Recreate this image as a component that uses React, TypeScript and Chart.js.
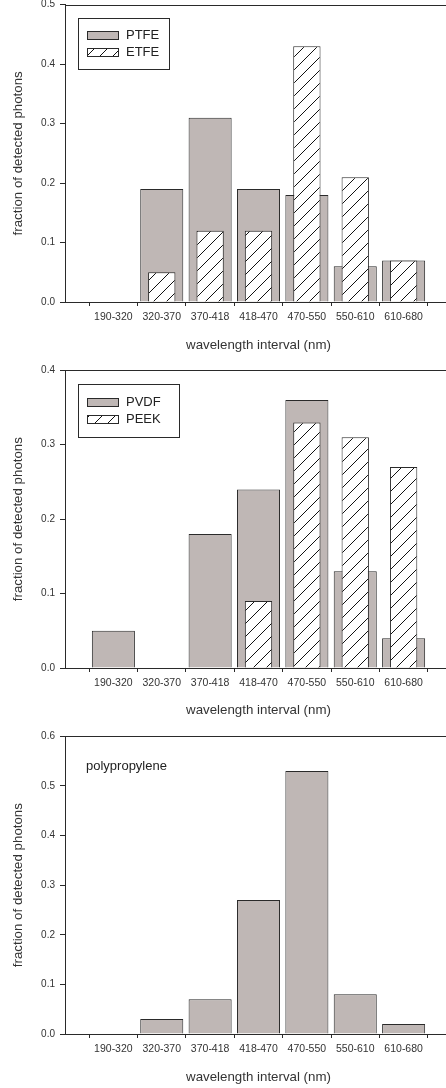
import React, { useEffect, useRef } from 'react';
import { Chart, registerables } from 'chart.js';

Chart.register(...registerables);

const FONT = '"Liberation Sans", Arial, Helvetica, sans-serif';

const categories = ['190-320', '320-370', '370-418', '418-470', '470-550', '550-610', '610-680'];
const ptfe = [0, 0.19, 0.31, 0.19, 0.18, 0.06, 0.07];
const etfe = [0, 0.05, 0.12, 0.12, 0.43, 0.21, 0.07];
const pvdf = [0.05, 0, 0.18, 0.24, 0.36, 0.13, 0.04];
const peek = [0, 0, 0, 0.09, 0.33, 0.31, 0.27];
const polypropylene = [0, 0.03, 0.07, 0.27, 0.53, 0.08, 0.02];
const yMaxes = [0.5, 0.4, 0.6];
const yStep = 0.1;
const xAxisTitle = 'wavelength interval (nm)';
const yAxisTitle = 'fraction of detected photons';

const GREY = '#bfb7b5';
const EDGE = '#2a2a2a';
const TEXT = '#333333';

function makeHatch(): CanvasPattern | string {
  const s = 13;
  const c = document.createElement('canvas');
  c.width = s;
  c.height = s;
  const g = c.getContext('2d');
  if (!g) return '#ffffff';
  g.fillStyle = '#ffffff';
  g.fillRect(0, 0, s, s);
  g.strokeStyle = '#111111';
  g.lineWidth = 1;
  g.beginPath();
  g.moveTo(0, s);
  g.lineTo(s, 0);
  g.moveTo(-2, 2);
  g.lineTo(2, -2);
  g.moveTo(s - 2, s + 2);
  g.lineTo(s + 2, s - 2);
  g.stroke();
  const p = g.createPattern(c, 'repeat');
  return p || '#ffffff';
}

const frameTopPlugin = {
  id: 'frameTop',
  afterDraw(chart: any) {
    const { ctx, chartArea } = chart;
    ctx.save();
    ctx.strokeStyle = EDGE;
    ctx.lineWidth = 1;
    const y = Math.round(chartArea.top) + 0.5;
    ctx.beginPath();
    ctx.moveTo(chartArea.left, y);
    ctx.lineTo(chartArea.right, y);
    ctx.stroke();
    ctx.restore();
  },
};

const boxLegendPlugin = {
  id: 'boxLegend',
  afterDraw(chart: any, _args: any, opts: any) {
    if (!opts || !opts.display) return;
    const { ctx, chartArea } = chart;
    const ds = chart.data.datasets;
    ctx.save();
    ctx.font = `${opts.fontSize}px ${FONT}`;
    ctx.textBaseline = 'middle';
    ctx.textAlign = 'left';
    const left = Math.round(chartArea.left + opts.x);
    const top = Math.round(chartArea.top + opts.y);
    if (opts.textOnly) {
      ctx.fillStyle = '#222';
      ctx.fillText(ds[0].label, left, top);
      ctx.restore();
      return;
    }
    ctx.strokeStyle = EDGE;
    ctx.lineWidth = 1;
    ctx.strokeRect(left + 0.5, top + 0.5, opts.width, opts.height);
    ds.forEach((d: any, i: number) => {
      const cy = Math.round(top + opts.rows[i]);
      const sx = left + opts.swX;
      const sy = cy - 4;
      ctx.fillStyle = d.backgroundColor;
      ctx.fillRect(sx, sy, opts.swW, 9);
      ctx.strokeStyle = EDGE;
      ctx.strokeRect(sx + 0.5, sy + 0.5, opts.swW, 8);
      ctx.fillStyle = '#222';
      ctx.fillText(d.label, left + opts.textX, cy + 0.5);
    });
    ctx.restore();
  },
};

type PanelProps = {
  top: number;
  height: number;
  padTop: number;
  axisHeight: number;
  titlePadBottom: number;
  yMax: number;
  series: { label: string; values: number[]; hatched: boolean }[];
  legend: any;
};

function Panel(props: PanelProps) {
  const ref = useRef<HTMLCanvasElement | null>(null);
  useEffect(() => {
    if (!ref.current) return;
    const hatch = makeHatch();
    const labels = ['', ...categories, ''];
    const datasets = props.series.map((s) => ({
      label: s.label,
      data: [null, ...s.values, null],
      backgroundColor: s.hatched ? hatch : GREY,
      borderColor: EDGE,
      borderWidth: 1,
      categoryPercentage: 1,
      barPercentage: s.hatched ? 0.565 : 0.89,
      grouped: false,
      order: s.hatched ? 1 : 2,
    }));
    const chart = new Chart(ref.current, {
      type: 'bar',
      data: { labels, datasets: datasets as any },
      plugins: [frameTopPlugin, boxLegendPlugin],
      options: {
        animation: false,
        responsive: false,
        maintainAspectRatio: false,
        devicePixelRatio: 1,
        layout: { padding: { top: props.padTop, left: 0, right: 0, bottom: 0 } },
        plugins: {
          legend: { display: false },
          tooltip: { enabled: false },
          boxLegend: props.legend,
        } as any,
        scales: {
          x: {
            type: 'category',
            offset: false,
            border: { display: true, color: EDGE, width: 1 },
            grid: { display: true, drawOnChartArea: false, drawTicks: true, tickLength: 4, color: EDGE },
            ticks: {
              autoSkip: false,
              maxRotation: 0,
              minRotation: 0,
              padding: 5,
              color: TEXT,
              font: { family: FONT, size: 10.5 },
            },
            title: {
              display: true,
              text: xAxisTitle,
              color: TEXT,
              font: { family: FONT, size: 13.3 },
              padding: { top: 0, bottom: props.titlePadBottom },
            },
            afterFit(scale: any) {
              scale.height = props.axisHeight;
              scale.paddingLeft = 0;
              scale.paddingRight = 0;
            },
          },
          y: {
            type: 'linear',
            min: 0,
            max: props.yMax,
            border: { display: true, color: EDGE, width: 1 },
            grid: { display: true, drawOnChartArea: false, drawTicks: true, tickLength: 5, color: EDGE },
            ticks: {
              stepSize: yStep,
              padding: 5,
              color: TEXT,
              font: { family: FONT, size: 10 },
              callback: (v: any) => Number(v).toFixed(1),
            },
            title: {
              display: true,
              text: yAxisTitle,
              color: TEXT,
              font: { family: FONT, size: 13.3 },
              padding: { top: 10.3, bottom: 0 },
            },
            afterFit(scale: any) {
              scale.width = 65;
              scale.paddingTop = 0;
              scale.paddingBottom = 0;
            },
          },
        },
      } as any,
    });
    return () => chart.destroy();
  }, []);
  return (
    <canvas
      ref={ref}
      width={452}
      height={props.height}
      style={{ position: 'absolute', left: 0, top: props.top, width: 452, height: props.height, display: 'block' }}
    />
  );
}

export default function App() {
  const legendBox = (width: number, y: number, rows: number[], height: number) => ({
    display: true,
    x: 13,
    y,
    width,
    height,
    rows,
    swX: 9,
    swW: 31,
    textX: 48,
    fontSize: 13,
  });
  return (
    <div
      style={{
        position: 'fixed',
        left: 0,
        top: 0,
        width: 446,
        height: 1088,
        overflow: 'hidden',
        background: '#ffffff',
      }}
    >
      <Panel
        top={0}
        height={362}
        padTop={4.7}
        axisHeight={60}
        titlePadBottom={8.3}
        yMax={yMaxes[0]}
        series={[
          { label: 'PTFE', values: ptfe, hatched: false },
          { label: 'ETFE', values: etfe, hatched: true },
        ]}
        legend={legendBox(91, 13.3, [17, 34], 51)}
      />
      <Panel
        top={362}
        height={362}
        padTop={8.3}
        axisHeight={56}
        titlePadBottom={5.5}
        yMax={yMaxes[1]}
        series={[
          { label: 'PVDF', values: pvdf, hatched: false },
          { label: 'PEEK', values: peek, hatched: true },
        ]}
        legend={legendBox(101, 13.7, [17.7, 35.3], 53)}
      />
      <Panel
        top={724}
        height={364}
        padTop={12.3}
        axisHeight={54}
        titlePadBottom={2.3}
        yMax={yMaxes[2]}
        series={[{ label: 'polypropylene', values: polypropylene, hatched: false }]}
        legend={{ display: true, textOnly: true, x: 21, y: 29.7, fontSize: 13 }}
      />
    </div>
  );
}
